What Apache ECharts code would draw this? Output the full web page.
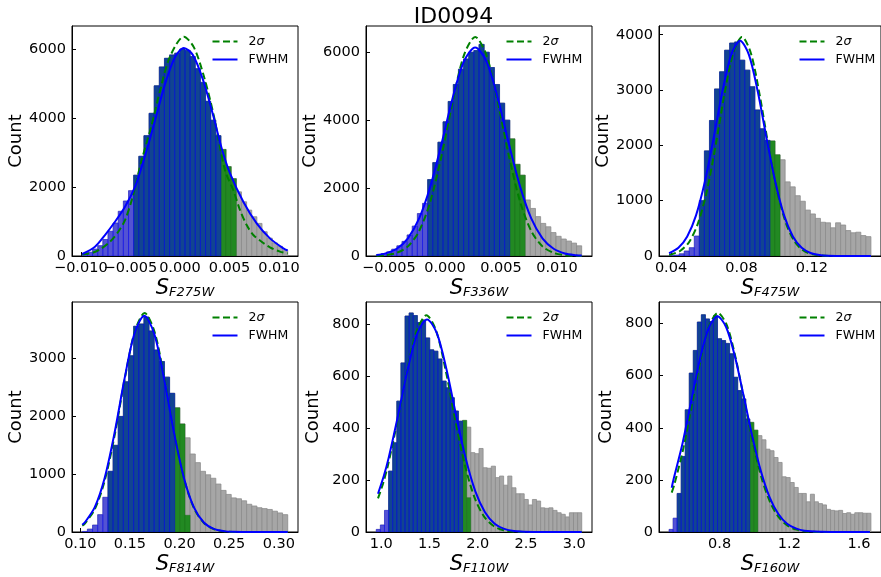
<!DOCTYPE html>
<html><head><meta charset="utf-8">
<script src="https://cdn.jsdelivr.net/npm/echarts@6/dist/echarts.min.js"></script>
<style>html,body{margin:0;padding:0;background:#fff}#c{width:881px;height:577px}</style>
</head><body><div id="c"></div>
<script>
// ---------------- DATA ----------------
const figTitle = 'ID0094';

// F275W
const f275wRange = [-0.00985, 0.01088];
const f275wCounts = [60, 110, 200, 300, 480, 720, 960, 1300, 1600, 1900, 2350, 2900, 3500, 4150, 4950, 5500, 5750, 5850, 5900, 6020, 5980, 5800, 5450, 5050, 4500, 3950, 3500, 3100, 2600, 2250, 1866, 1577, 1335, 1142, 948, 706, 520, 380, 280, 170];
const f275wSigmaBins = [10, 29];
const f275wFwhmBins = [0, 26];
const f275wSigmaPartial = [];
const f275wFwhmCurve = [[-0.00985,58],[-0.00857,270],[-0.00756,610],[-0.00655,996],[-0.00554,1431],[-0.00453,2012],[-0.00386,2592],[-0.00335,3077],[-0.0025,3950],[-0.0015,5000],[-0.0005,5780],[0.0004,6050],[0.0013,5850],[0.0023,5150],[0.0033,4150],[0.0042,3150],[0.00506,2400],[0.0064,1577],[0.00775,948],[0.00909,513],[0.01044,223],[0.01088,160]];
const f275wSigmaCurve = [[-0.00985,40],[-0.00875,100],[-0.00789,223],[-0.00705,416],[-0.00622,706],[-0.00554,1045],[-0.00486,1625],[-0.00436,2206],[-0.00386,2787],[-0.0029,3751],[-0.002,4816],[-0.001,5797],[0.0004,6380],[0.0014,6076],[0.0024,5248],[0.0034,4111],[0.00455,2496],[0.00539,1916],[0.00607,1335],[0.00674,900],[0.00741,610],[0.00825,416],[0.00909,252],[0.0101,126],[0.01088,77]];
const f275wXTicks = [-0.010, -0.005, 0, 0.005, 0.010];
const f275wYTicks = [0, 2000, 4000, 6000];
const f275wXLim = [-0.01089, 0.01192];
const f275wYMax = 6690;

// F336W
const f336wRange = [-0.00612, 0.0122];
const f336wCounts = [40, 70, 120, 200, 300, 430, 620, 880, 1250, 1550, 2250, 2750, 3350, 3950, 4550, 5050, 5500, 5800, 6000, 6050, 6230, 6000, 5550, 5050, 4500, 4000, 3450, 2700, 2380, 1650, 1400, 1160, 960, 860, 690, 580, 500, 440, 380, 300];
const f336wSigmaBins = [10, 28];
const f336wFwhmBins = [0, 25];
const f336wSigmaPartial = [];
const f336wFwhmCurve = [[-0.0061,30],[-0.0053,76],[-0.0043,213],[-0.0033,521],[-0.0023,1105],[-0.0013,2051],[-0.0003,3309],[0.0007,4666],[0.0017,5735],[0.0027,6140],[0.0037,5735],[0.0047,4666],[0.0057,3309],[0.0067,2051],[0.0077,1105],[0.0087,521],[0.0097,213],[0.0107,76],[0.0117,24],[0.0122,13]];
const f336wSigmaCurve = [[-0.0061,8],[-0.0053,25],[-0.0043,92],[-0.0033,283],[-0.0023,735],[-0.0013,1606],[-0.0003,2954],[0.0007,4560],[0.0017,5915],[0.0027,6450],[0.0037,5915],[0.0047,4560],[0.0057,2954],[0.0067,1606],[0.0077,735],[0.0087,283],[0.0097,92],[0.0107,25],[0.0117,6],[0.0122,3]];
const f336wXTicks = [-0.005, 0, 0.005, 0.010];
const f336wYTicks = [0, 2000, 4000, 6000];
const f336wXLim = [-0.00704, 0.01312];
const f336wYMax = 6772;

// F475W
const f475wRange = [0.0389, 0.1535];
const f475wCounts = [5, 15, 40, 90, 150, 360, 1000, 1900, 2450, 3020, 3330, 3720, 3850, 3870, 3540, 3360, 3060, 2640, 2300, 2090, 2080, 1830, 1740, 1340, 1250, 1090, 990, 830, 760, 680, 610, 600, 510, 600, 560, 460, 420, 430, 370, 350];
const f475wSigmaBins = [6, 21];
const f475wFwhmBins = [0, 19];
const f475wSigmaPartial = [];
const f475wFwhmCurve = [[0.0389,50],[0.0442,149],[0.0492,354],[0.0542,735],[0.0592,1342],[0.0642,2136],[0.0692,2980],[0.0742,3641],[0.0792,3890],[0.0842,3641],[0.0892,2980],[0.0942,2136],[0.0992,1342],[0.1042,735],[0.1092,354],[0.1142,149],[0.1192,55],[0.1242,18],[0.1292,5],[0.1392,0],[0.1535,0]];
const f475wSigmaCurve = [[0.0389,21],[0.0403,30],[0.0453,94],[0.0503,254],[0.0553,590],[0.0603,1168],[0.0653,1992],[0.0703,2918],[0.0753,3671],[0.0803,3960],[0.0853,3671],[0.0903,2918],[0.0953,1992],[0.1003,1168],[0.1053,590],[0.1103,254],[0.1153,94],[0.1203,30],[0.1253,8],[0.1353,0],[0.1535,0]];
const f475wXTicks = [0.04, 0.08, 0.12];
const f475wYTicks = [0, 1000, 2000, 3000, 4000];
const f475wXLim = [0.03317, 0.15923];
const f475wYMax = 4158;

// F814W
const f814wRange = [0.102, 0.309];
const f814wCounts = [10, 50, 120, 300, 600, 1050, 1500, 2000, 2600, 3050, 3560, 3600, 3720, 3480, 3150, 2950, 2680, 2400, 2150, 1870, 1630, 1350, 1200, 1050, 990, 930, 830, 720, 650, 590, 575, 540, 480, 450, 420, 405, 390, 360, 330, 300];
const f814wSigmaBins = [5, 20];
const f814wFwhmBins = [0, 17];
const f814wSigmaPartial = [[20, 290]];
const f814wFwhmCurve = [[0.102,126],[0.1045,164],[0.1145,426],[0.1245,931],[0.1345,1713],[0.1445,2644],[0.1545,3430],[0.1645,3740],[0.1745,3430],[0.1845,2644],[0.1945,1713],[0.2045,931],[0.2145,426],[0.2245,164],[0.2345,53],[0.2445,15],[0.2545,3],[0.2745,0],[0.309,0]];
const f814wSigmaCurve = [[0.102,110],[0.1048,150],[0.1148,402],[0.1248,902],[0.1348,1690],[0.1448,2649],[0.1548,3464],[0.1648,3790],[0.1748,3464],[0.1848,2649],[0.1948,1690],[0.2048,902],[0.2148,402],[0.2248,150],[0.2348,47],[0.2448,12],[0.2648,0],[0.309,0]];
const f814wXTicks = [0.10, 0.15, 0.20, 0.25, 0.30];
const f814wYTicks = [0, 1000, 2000, 3000];
const f814wXLim = [0.09165, 0.31935];
const f814wYMax = 3980;

// F110W
const f110wRange = [0.948, 3.078];
const f110wCounts = [10, 27, 83, 234, 343, 503, 650, 830, 842, 832, 805, 815, 746, 700, 695, 665, 580, 554, 516, 465, 426, 429, 403, 305, 301, 321, 247, 245, 253, 209, 215, 180, 215, 170, 147, 147, 125, 104, 125, 119, 93, 91, 93, 83, 74, 68, 58, 74, 74, 74];
const f110wSigmaBins = [3, 22];
const f110wFwhmBins = [0, 20];
const f110wSigmaPartial = [[22, 132]];
const f110wFwhmCurve = [[0.966,147],[1.025,214],[1.075,283],[1.175,450],[1.275,627],[1.375,765],[1.475,817],[1.575,765],[1.675,627],[1.775,450],[1.875,283],[1.975,156],[2.075,76],[2.175,32],[2.275,12],[2.375,4],[2.575,0],[3.078,0]];
const f110wSigmaCurve = [[0.966,129],[1.018,186],[1.068,255],[1.168,428],[1.268,620],[1.368,774],[1.468,833],[1.568,774],[1.668,620],[1.768,428],[1.868,255],[1.968,131],[2.068,58],[2.168,22],[2.268,7],[2.368,2],[2.568,0],[3.078,0]];
const f110wXTicks = [1.0, 1.5, 2.0, 2.5, 3.0];
const f110wYTicks = [0, 200, 400, 600, 800];
const f110wXLim = [0.8415, 3.1845];
const f110wYMax = 884;

// F160W
const f160wRange = [0.510, 1.668];
const f160wCounts = [10, 53, 148, 290, 469, 610, 697, 806, 834, 818, 808, 830, 742, 735, 724, 684, 594, 543, 511, 434, 421, 391, 370, 354, 318, 312, 286, 267, 212, 209, 190, 171, 148, 148, 116, 145, 116, 109, 104, 87, 83, 81, 83, 71, 74, 68, 74, 74, 72, 72];
const f160wSigmaBins = [2, 21];
const f160wFwhmBins = [0, 19];
const f160wSigmaPartial = [];
const f160wFwhmCurve = [[0.525,170],[0.537,206],[0.587,340],[0.637,503],[0.687,663],[0.737,783],[0.787,828],[0.837,787],[0.887,676],[0.937,525],[0.987,368],[1.037,233],[1.087,133],[1.137,69],[1.187,32],[1.237,14],[1.287,5],[1.387,1],[1.5,0],[1.662,0]];
const f160wSigmaCurve = [[0.525,151],[0.54,182],[0.59,316],[0.64,485],[0.69,659],[0.74,791],[0.79,841],[0.84,796],[0.89,674],[0.94,510],[0.99,346],[1.04,209],[1.09,114],[1.14,56],[1.19,24],[1.24,9],[1.29,3],[1.39,0],[1.662,0]];
const f160wXTicks = [0.8, 1.2, 1.6];
const f160wYTicks = [0, 200, 400, 600, 800];
const f160wXLim = [0.4521, 1.7259];
const f160wYMax = 883;

const legendNames = ['2σ', 'FWHM'];

// ---------------- BUILD ----------------
const FONT = 'DejaVu Sans';
const panels = [
  {f:'F275W', range:f275wRange, counts:f275wCounts, sig:f275wSigmaBins, fw:f275wFwhmBins, part:f275wSigmaPartial, fc:f275wFwhmCurve, sc:f275wSigmaCurve, xt:f275wXTicks, yt:f275wYTicks, xl:f275wXLim, ym:f275wYMax, dec:3},
  {f:'F336W', range:f336wRange, counts:f336wCounts, sig:f336wSigmaBins, fw:f336wFwhmBins, part:f336wSigmaPartial, fc:f336wFwhmCurve, sc:f336wSigmaCurve, xt:f336wXTicks, yt:f336wYTicks, xl:f336wXLim, ym:f336wYMax, dec:3},
  {f:'F475W', range:f475wRange, counts:f475wCounts, sig:f475wSigmaBins, fw:f475wFwhmBins, part:f475wSigmaPartial, fc:f475wFwhmCurve, sc:f475wSigmaCurve, xt:f475wXTicks, yt:f475wYTicks, xl:f475wXLim, ym:f475wYMax, dec:2},
  {f:'F814W', range:f814wRange, counts:f814wCounts, sig:f814wSigmaBins, fw:f814wFwhmBins, part:f814wSigmaPartial, fc:f814wFwhmCurve, sc:f814wSigmaCurve, xt:f814wXTicks, yt:f814wYTicks, xl:f814wXLim, ym:f814wYMax, dec:2},
  {f:'F110W', range:f110wRange, counts:f110wCounts, sig:f110wSigmaBins, fw:f110wFwhmBins, part:f110wSigmaPartial, fc:f110wFwhmCurve, sc:f110wSigmaCurve, xt:f110wXTicks, yt:f110wYTicks, xl:f110wXLim, ym:f110wYMax, dec:1},
  {f:'F160W', range:f160wRange, counts:f160wCounts, sig:f160wSigmaBins, fw:f160wFwhmBins, part:f160wSigmaPartial, fc:f160wFwhmCurve, sc:f160wSigmaCurve, xt:f160wXTicks, yt:f160wYTicks, xl:f160wXLim, ym:f160wYMax, dec:1}
];

const colLeft = [72, 366, 659];
const rowTop = [26, 302];
const GW = 226, GH = 230;

function fmt(v, dec) {
  return v.toFixed(dec).replace('-', '\u2212');
}
function binData(p, from, to, partial) {
  const n = p.counts.length, lo = p.range[0], w = (p.range[1] - p.range[0]) / n;
  const out = [];
  for (let i = from; i <= to; i++) {
    let h = p.counts[i];
    (partial || []).forEach(q => { if (q[0] === i) h = q[1]; });
    out.push([lo + i * w, lo + (i + 1) * w, h]);
  }
  return out;
}
function rectRender(fill, stroke, lw) {
  return function (params, api) {
    const a = api.coord([api.value(0), api.value(2)]);
    const b = api.coord([api.value(1), 0]);
    return {type: 'rect', shape: {x: a[0], y: a[1], width: b[0] - a[0], height: b[1] - a[1]},
      style: {fill: fill, stroke: stroke, lineWidth: lw}};
  };
}

const grids = [], xAxes = [], extraX = [], yAxes = [], series = [], legends = [];
panels.forEach((p, k) => {
  const left = colLeft[k % 3], top = rowTop[Math.floor(k / 3)];
  const labelStyle = {fontFamily: FONT, fontSize: 14.5, color: '#000', margin: 5, formatter: v => fmt(v, p.dec)};
  grids.push({left: left, top: top, width: GW, height: GH, show: true, borderColor: '#000', borderWidth: 1, containLabel: false});
  xAxes.push({
    type: 'value', gridIndex: k, min: p.xl[0], max: p.xl[1],
    axisLine: {show: true, onZero: false, lineStyle: {color: '#000', width: 1}},
    axisTick: {show: true, inside: true, length: 4, customValues: p.xt, lineStyle: {color: '#000'}},
    axisLabel: Object.assign({customValues: p.xt.slice(1), showMinLabel: true, showMaxLabel: true}, labelStyle),
    splitLine: {show: false},
    name: '{s|S}{sub|' + p.f + '}', nameLocation: 'middle', nameGap: 22,
    nameTextStyle: {rich: {
      s: {fontFamily: FONT, fontStyle: 'italic', fontSize: 21, lineHeight: 21, verticalAlign: 'bottom', color: '#000'},
      sub: {fontFamily: FONT, fontStyle: 'italic', fontSize: 13, lineHeight: 13, verticalAlign: 'bottom', color: '#000'}
    }}
  });
  // first tick label drawn by a companion axis so that touching labels are both kept
  extraX.push({
    type: 'value', gridIndex: k, min: p.xl[0], max: p.xl[1], position: 'bottom',
    axisLine: {show: false, onZero: false}, axisTick: {show: false}, splitLine: {show: false},
    axisLabel: Object.assign({customValues: [p.xt[0]], showMinLabel: true, showMaxLabel: true}, labelStyle)
  });
  yAxes.push({
    type: 'value', gridIndex: k, min: 0, max: p.ym,
    axisLine: {show: true, onZero: false, lineStyle: {color: '#000', width: 1}},
    axisTick: {show: true, inside: true, length: 4, customValues: p.yt, lineStyle: {color: '#000'}},
    axisLabel: {customValues: p.yt, showMinLabel: true, formatter: v => String(v), fontFamily: FONT, fontSize: 14.5, color: '#000', margin: 6},
    splitLine: {show: false},
    name: 'Count', nameLocation: 'middle', nameGap: 44, nameRotate: 90,
    nameTextStyle: {fontFamily: FONT, fontSize: 18, color: '#000'}
  });
  const common = {type: 'custom', xAxisIndex: k, yAxisIndex: k, encode: {x: [0, 1], y: 2}, clip: true, silent: true};
  series.push(Object.assign({}, common, {z: 1, data: binData(p, 0, p.counts.length - 1),
    renderItem: rectRender('#a6a6a6', '#8c8c8c', 0.8)}));
  series.push(Object.assign({}, common, {z: 2, data: binData(p, p.sig[0], p.sig[1], p.part),
    renderItem: rectRender('rgb(34,137,34)', 'rgba(20,100,20,0.6)', 0.6)}));
  series.push(Object.assign({}, common, {z: 3, data: binData(p, p.fw[0], p.fw[1]),
    renderItem: rectRender('rgba(0,0,255,0.5)', 'rgba(0,0,255,0.5)', 0.7)}));
  series.push({type: 'line', name: '2σ', xAxisIndex: k, yAxisIndex: k, data: p.sc, symbol: 'none', showSymbol: false,
    smooth: 0.3, z: 5, lineStyle: {color: '#008000', width: 2, type: [7, 3.5]}, itemStyle: {color: '#008000'}});
  series.push({type: 'line', name: 'FWHM', xAxisIndex: k, yAxisIndex: k, data: p.fc, symbol: 'none', showSymbol: false,
    smooth: 0.3, z: 6, lineStyle: {color: '#0000ff', width: 2}, itemStyle: {color: '#0000ff'}});
  legends.push({
    left: left + 139.5, top: top + 9, orient: 'vertical', padding: 0, itemWidth: 25, itemHeight: 14, itemGap: 5,
    selectedMode: false, data: legendNames, itemStyle: {opacity: 0},
    formatter: n => n === '2σ' ? '2{i|σ}' : n,
    textStyle: {fontFamily: FONT, fontSize: 12.5, color: '#000', padding: [0, 0, 0, 6],
      rich: {i: {fontFamily: FONT, fontSize: 12.5, fontStyle: 'italic', color: '#000'}}}
  });
});

const chart = echarts.init(document.getElementById('c'), null, {renderer: 'canvas'});
chart.setOption({
  animation: false,
  backgroundColor: '#fff',
  title: {text: figTitle, left: 453.5, top: 6, textAlign: 'center', padding: 0,
    textStyle: {fontFamily: FONT, fontSize: 22, fontWeight: 'normal', color: '#000'}},
  grid: grids, xAxis: xAxes.concat(extraX), yAxis: yAxes, legend: legends, series: series
});
</script></body></html>
